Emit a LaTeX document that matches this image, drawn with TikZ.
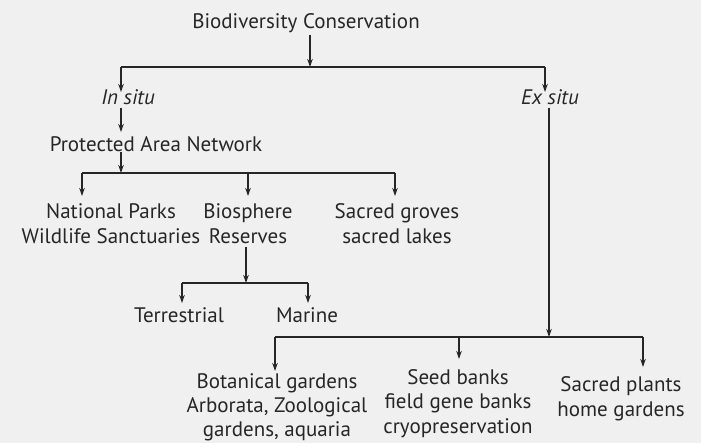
\documentclass[tikz,border=0pt]{standalone}
\usepackage{fontspec}
\setmainfont{PT Sans}
\usetikzlibrary{arrows.meta,calc}
\definecolor{ink}{HTML}{262626}
\definecolor{paper}{HTML}{F0F0F0}
\begin{document}
\begin{tikzpicture}[x=1pt,y=-1pt,
  lbl/.style={font=\fontsize{21}{25}\selectfont, align=center, inner sep=0pt, anchor=north, text=ink},
  ln/.style={draw=ink, line width=1.2pt},
  arr/.style={ln, -{Stealth[length=8pt,width=5.5pt]}}]
\fill[paper] (0,0) rectangle (701,443);
\useasboundingbox (0,0) rectangle (701,443);
% nodes
\node[lbl] (root) at (306,13) {Biodiversity Conservation};
\node[lbl] (insitu) at (128,89) {\itshape In situ};
\node[lbl] (exsitu) at (550,89) {\itshape Ex situ};
\node[lbl] (pan) at (156,136) {Protected Area Network};
\node[lbl] (np) at (111,203) {National Parks\\Wildlife Sanctuaries};
\node[lbl] (bio) at (248,203) {Biosphere\\Reserves};
\node[lbl] (sg) at (397,203) {Sacred groves\\sacred lakes};
\node[lbl] (ter) at (179,307) {Terrestrial};
\node[lbl] (mar) at (307,307) {Marine};
\node[lbl, font=\fontsize{21}{24}\selectfont] (bot) at (277,373) {Botanical gardens\\Arborata, Zoological\\gardens, aquaria};
\node[lbl, font=\fontsize{21}{24.5}\selectfont] (seed) at (458,369) {Seed banks\\field gene banks\\cryopreservation};
\node[lbl] (sp) at (621,376) {Sacred plants\\home gardens};
% junction coordinates
\coordinate (c0) at (310,67);
\coordinate (cL) at (121,67);
\coordinate (cR) at (545,67);
\coordinate (c1) at (121,173);
\coordinate (g1) at (82,173);
\coordinate (g2) at (248,173);
\coordinate (g3) at (395,173);
\coordinate (c3) at (246,283);
\coordinate (t1) at (182,283);
\coordinate (t2) at (308,283);
\coordinate (c4) at (549,337);
\coordinate (b1) at (275,337);
\coordinate (b2) at (459,337);
\coordinate (b3) at (643,337);
% connectors
\draw[arr] ([yshift=-2pt]root.south -| c0) -- (c0);
\draw[ln] (cL) -- (cR);
\draw[arr] (cL) -- ([yshift=-3pt]insitu.north -| cL);
\draw[arr] (cR) -- ([yshift=-3pt]exsitu.north -| cR);
\draw[arr, shorten >=4pt] ([yshift=-3pt]insitu.south -| cL) -- (pan.north -| cL);
\draw[arr] (pan.south -| c1) -- (c1);
\draw[ln] (g1) -- (g3);
\draw[arr, shorten >=7pt] (g1) -- (np.north -| g1);
\draw[arr, shorten >=7pt] (g2) -- (bio.north -| g2);
\draw[arr, shorten >=7pt] (g3) -- (sg.north -| g3);
\draw[arr] ([yshift=-3pt]bio.south -| c3) -- (c3);
\draw[ln] (t1) -- (t2);
\draw[arr, shorten >=4pt] (t1) -- (ter.north -| t1);
\draw[arr, shorten >=4pt] (t2) -- (mar.north -| t2);
\draw[arr] ([yshift=-3pt]exsitu.south -| c4) -- (c4);
\draw[ln] (b1) -- (b3);
\draw[arr, shorten >=2pt] (b1) -- (bot.north -| b1);
\draw[arr, shorten >=10pt] (b2) -- (seed.north -| b2);
\draw[arr, shorten >=9pt] (b3) -- (sp.north -| b3);
\end{tikzpicture}
\end{document}
